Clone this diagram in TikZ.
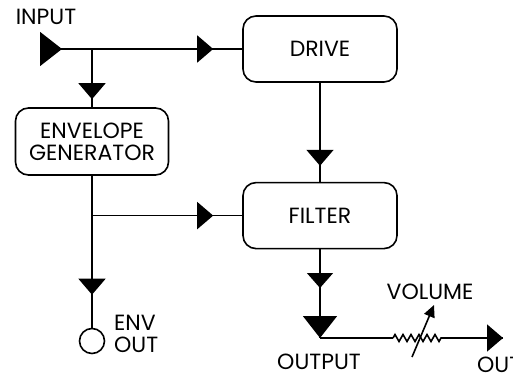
\documentclass[tikz,border=0pt]{standalone}
\usepackage{fontspec}
\setmainfont{Poppins}
\usetikzlibrary{arrows.meta,positioning,decorations.markings,decorations.pathmorphing}

\begin{document}
\begin{tikzpicture}[x=1pt,y=-1pt,
		font=\fontsize{22}{22}\selectfont,
		line width=1.6pt,
		block/.style = {draw, rounded corners=13pt, minimum width=154pt, minimum height=66pt, align=center, inner sep=0pt},
		tri/.style = {postaction={decorate, decoration={markings, mark=at position #1 with {\arrow{Triangle[length=16pt,width=27pt]}}}}},
		bigtri/.style = {postaction={decorate, decoration={markings, mark=at position #1 with {\arrow{Triangle[length=22pt,width=34pt]}}}}},
		smalltri/.style = {postaction={decorate, decoration={markings, mark=at position #1 with {\arrow{Triangle[length=15pt,width=26pt]}}}}},
		resistor/.style = {decorate, decoration={zigzag, segment length=8pt, amplitude=3.5pt}}]
	\useasboundingbox (0,0) rectangle (513,377);
	% blocks
	\node[block] (drive) at (320,49) {DRIVE};
	\node[block, below=99pt of drive] (filter) {FILTER};
	\node[block, minimum width=153pt, minimum height=67pt] (env) at (92,141.5) {ENVELOPE\\GENERATOR};
	\node[draw, circle, minimum size=25pt, inner sep=0pt] (envout) at (92,341) {};
	% labels
	\node (intext) at (46,17) {INPUT};
	\node[anchor=west, align=left] (envtext) at (110,334) {ENV\\OUT};
	\node (outputtext) at (319,362) {OUTPUT};
	\node (voltext) at (430,292) {VOLUME};
	\node[anchor=west] (outtext) at (473,365) {OUT};
	% points
	\coordinate (in) at (40,49);
	\coordinate (j1) at (92,49);
	\coordinate (j2) at (env.south |- filter.west);
	\coordinate (output) at (320,338);
	\coordinate (r1) at (393,338);
	\coordinate (r2) at (442,338);
	\coordinate (out) at (503,338);
	\coordinate (w1) at (412,357);
	\coordinate (w2) at (434,305);
	% signal path
	\draw[bigtri=22pt, tri=-29pt] (in) -- (drive.west);
	\draw[tri=-8pt] (j1) -- (env.north);
	\draw[tri=-16pt] (drive.south) -- (filter.north);
	\draw (env.south) -- (j2);
	\draw[tri=-29pt] (j2) -- (filter.west);
	\draw[tri=-33pt] (j2) -- (envout.north);
	\draw[smalltri=-50pt, bigtri=1] (filter.south) -- (output);
	\draw (output) -- (r1);
	\draw[resistor] (r1) -- (r2);
	\draw[tri=1] (r2) -- (out);
	\draw[-{Triangle[length=12pt,width=11pt]}] (w1) -- (w2);
\end{tikzpicture}
\end{document}
